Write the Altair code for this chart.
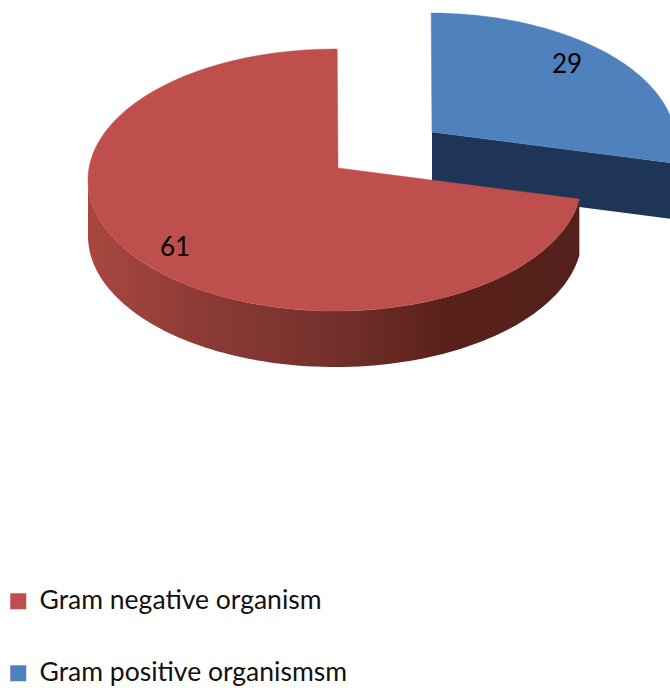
import math
import altair as alt
import pandas as pd

# Slices of the pie, in drawing order around the clock from twelve o'clock
positive_name = "Gram positive organismsm"
negative_name = "Gram negative organism"
positive_value = 29
negative_value = 61
legend_order = [negative_name, positive_name]
slice_colors = ["#BE4F4C", "#4F81BD"]

WIDTH, HEIGHT = 670, 688

# Tilted-disc view: rim ellipse, wall depth and the shift of the pulled-out slice
CX, CY, RX, RY = 335, 180, 247, 131
DEPTH = 56
APEX = (338, 168)
POS_SHIFT = (94, -36)
ROTATION = 0.5
VIEW_WARP = 23  # angular foreshortening of the tilted view, in degrees

total = positive_value + negative_value
split = 360 * positive_value / total


def rim(theta, shift=(0, 0)):
    shown = math.radians(theta + VIEW_WARP * math.sin(math.radians(2 * theta)) + ROTATION)
    return (CX + shift[0] + RX * math.sin(shown), CY + shift[1] - RY * math.cos(shown))


def sweep(start, end, steps=120):
    return [start + (end - start) * i / steps for i in range(steps + 1)]


def face(start, end, apex, shift=(0, 0)):
    pts = [apex] + [rim(t, shift) for t in sweep(start, end)] + [apex]
    return pd.DataFrame({"x": [p[0] for p in pts], "y": [p[1] for p in pts], "i": range(len(pts))})


x_scale = alt.Scale(domain=[0, WIDTH], nice=False, zero=False)
y_scale = alt.Scale(domain=[HEIGHT, 0], nice=False, zero=False)
X = alt.X("x:Q", scale=x_scale, axis=None)
Y = alt.Y("y:Q", scale=y_scale, axis=None)


def top_face(df, color):
    return alt.Chart(df).mark_line(fill=color, stroke=color, strokeWidth=0.5, clip=True).encode(
        x=X, y=Y, order="i:Q"
    )


# Pulled-out slice: straight cut wall, then its top face
pos_apex = (APEX[0] + POS_SHIFT[0], APEX[1] + POS_SHIFT[1])
pos_tip = rim(split, POS_SHIFT)
pos_wall_df = pd.DataFrame(
    {
        "x": [pos_apex[0], pos_tip[0]],
        "y": [pos_apex[1], pos_tip[1]],
        "y2": [pos_apex[1] + DEPTH, pos_tip[1] + DEPTH],
    }
)
pos_wall = alt.Chart(pos_wall_df).mark_area(color="#1F3558", clip=True, orient="vertical").encode(
    x=X, y=Y, y2="y2:Q"
)
pos_top = top_face(face(0, split, pos_apex, POS_SHIFT), slice_colors[1])

# Main slice: curved outer wall shaded from left to right, then its top face
wall_pts = [rim(t) for t in sweep(split, 270, 160)]
neg_wall_df = pd.DataFrame(
    {
        "x": [p[0] for p in wall_pts],
        "y": [p[1] for p in wall_pts],
        "y2": [p[1] + DEPTH for p in wall_pts],
    }
)
neg_wall = alt.Chart(neg_wall_df).mark_area(
    orient="vertical",
    clip=True,
    fill=alt.Gradient(
        gradient="linear",
        x1=0,
        x2=1,
        y1=0,
        y2=0,
        stops=[
            alt.GradientStop(color="#A8473F", offset=0),
            alt.GradientStop(color="#8A3A34", offset=0.25),
            alt.GradientStop(color="#74302B", offset=0.5),
            alt.GradientStop(color="#5A211C", offset=0.72),
            alt.GradientStop(color="#54201B", offset=1),
        ],
    ),
).encode(x=X, y=Y, y2="y2:Q")
neg_top = top_face(face(split, 360, APEX), slice_colors[0])

# Value labels sitting on the top faces
labels_df = pd.DataFrame(
    {
        "x": [175, 567],
        "y": [248, 65],
        "label": [str(negative_value), str(positive_value)],
    }
)
labels = alt.Chart(labels_df).mark_text(
    font="Lato", fontSize=26, color="#000000", align="center", baseline="middle"
).encode(x=X, y=Y, text="label:N")

# Zero-sized marks that only feed the legend
legend_df = pd.DataFrame({"name": legend_order, "x": [0, 0], "y": [0, 0]})
legend_layer = alt.Chart(legend_df).mark_square(size=0).encode(
    x=X,
    y=Y,
    color=alt.Color(
        "name:N",
        sort=legend_order,
        scale=alt.Scale(domain=legend_order, range=slice_colors),
        legend=alt.Legend(
            title=None,
            orient="none",
            legendX=5,
            legendY=588,
            symbolType="square",
            symbolSize=256,
            symbolStrokeWidth=0,
            symbolOpacity=1,
            labelFont="Lato",
            labelFontSize=26.5,
            labelColor="#111111",
            labelLimit=400,
            labelOffset=8,
            rowPadding=45,
            padding=0,
        ),
    ),
)

chart = (
    alt.layer(pos_wall, pos_top, neg_wall, neg_top, labels, legend_layer)
    .properties(
        width=WIDTH,
        height=HEIGHT,
        padding=0,
        autosize=alt.AutoSizeParams(type="none"),
        background="#FFFFFF",
    )
    .configure_view(stroke=None)
)

chart.save("out.html", embed_options={"renderer": "svg", "actions": False})
